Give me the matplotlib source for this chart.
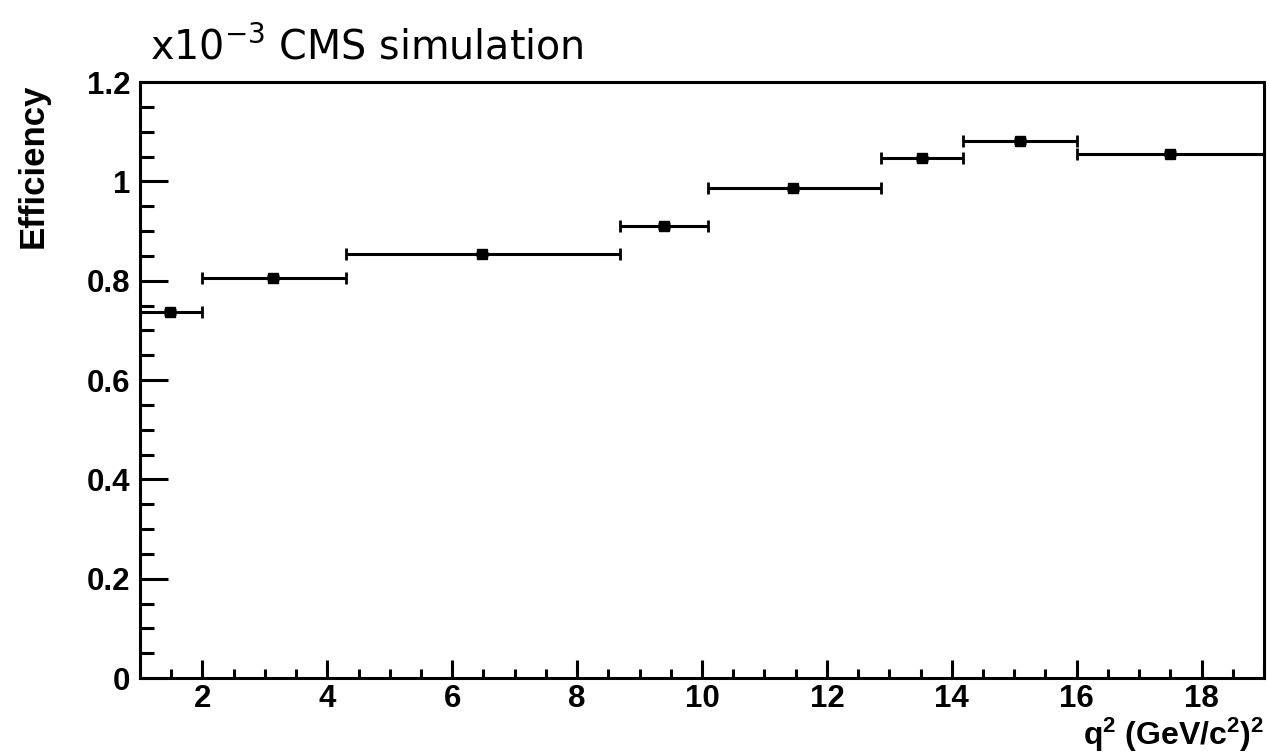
import numpy as np
import matplotlib.pyplot as plt
from matplotlib.ticker import MultipleLocator

plt.rcParams['mathtext.fontset'] = 'custom'
plt.rcParams['mathtext.rm'] = 'Liberation Sans'
plt.rcParams['mathtext.bf'] = 'Liberation Sans:bold'

# q2 bins and efficiency (x1e-3)
bin_edges = [1.0, 2.0, 4.3, 8.68, 10.09, 12.86, 14.18, 16.0, 19.0]
q2_mean = [1.48, 3.13, 6.48, 9.39, 11.46, 13.52, 15.09, 17.5]
efficiency = [0.736, 0.806, 0.853, 0.911, 0.986, 1.046, 1.082, 1.056]
eff_err = [0.004, 0.003, 0.002, 0.004, 0.003, 0.004, 0.004, 0.003]

x = np.array(q2_mean)
lo = x - np.array(bin_edges[:-1])
hi = np.array(bin_edges[1:]) - x

fig = plt.figure(figsize=(12.69, 7.53), dpi=100)
ax = fig.add_axes([140 / 1269, 1 - 678 / 753, 1124 / 1269, 596 / 753])

ax.errorbar(x, efficiency, xerr=[lo, hi], yerr=eff_err, fmt='s', color='black',
            ms=6.5, elinewidth=2.2, capsize=4.5, capthick=2.0)

ax.set_xlim(1, 19)
ax.set_ylim(0, 1.2)
ax.xaxis.set_major_locator(MultipleLocator(2))
ax.xaxis.set_minor_locator(MultipleLocator(0.5))
ax.yaxis.set_major_locator(MultipleLocator(0.2))
ax.yaxis.set_minor_locator(MultipleLocator(0.05))

for s in ax.spines.values():
    s.set_linewidth(2.2)

tick_font = dict(family='Liberation Sans', weight='bold', size=22.5)
ax.tick_params(axis='x', which='major', direction='in', length=13, width=2.2, pad=4)
ax.tick_params(axis='x', which='minor', direction='in', length=6.5, width=2.2)
ax.tick_params(axis='y', which='major', direction='in', length=20, width=2.2, pad=7)
ax.tick_params(axis='y', which='minor', direction='in', length=10, width=2.2)
ax.set_xticks([2, 4, 6, 8, 10, 12, 14, 16, 18])
ax.set_xticklabels(['2', '4', '6', '8', '10', '12', '14', '16', '18'], fontdict=tick_font)
ax.set_yticks([0, 0.2, 0.4, 0.6, 0.8, 1.0, 1.2])
ax.set_yticklabels(['0', '0.2', '0.4', '0.6', '0.8', '1', '1.2'], fontdict=tick_font)

fig.text(33 / 1269, 1 - 83 / 753, 'Efficiency', rotation=90, ha='center', va='top',
         family='Liberation Sans', weight='bold', size=25)
fig.text(1264 / 1269, 1 - 735 / 753, r'$\mathbf{q^{2}\;(GeV/c^{2})^{2}}$', ha='right',
         va='center', size=23)
fig.text(150 / 1269, 1 - 59 / 753, 'x10$^{\\mathregular{−3}}$ CMS simulation', ha='left',
         va='baseline', family=['DejaVu Sans'], size=28.5)

fig.savefig('out.png', dpi=100)
